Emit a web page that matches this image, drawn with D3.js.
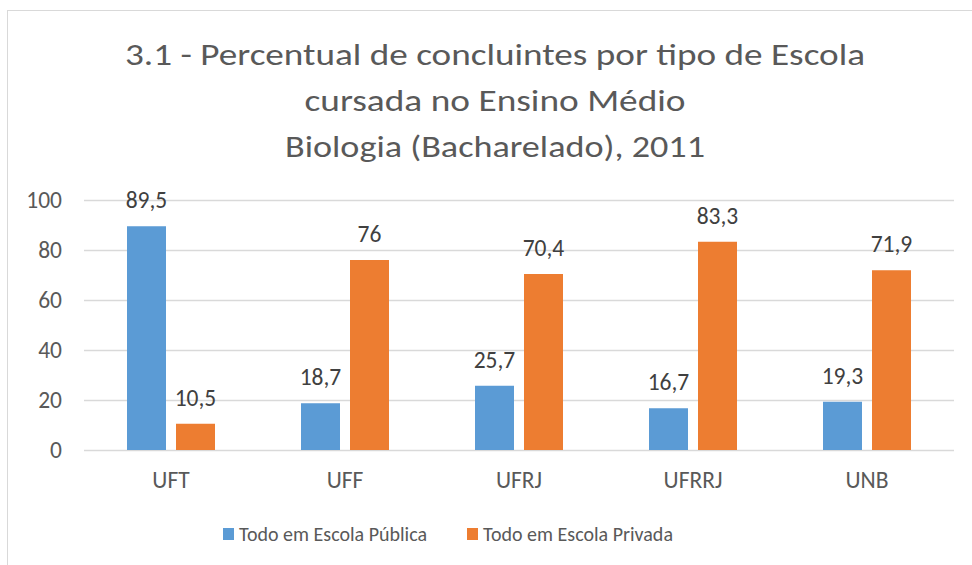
<!DOCTYPE html>
<html>
<head>
<meta charset="utf-8">
<script src="https://cdn.jsdelivr.net/npm/d3@7"></script>
<style>
  body { margin: 0; background: #fff; }
  svg { display: block; font-family: Carlito, Calibri, "Open Sans", sans-serif; }
</style>
</head>
<body>
<svg id="chart" width="972" height="565"></svg>
<script>
// chart data
const categories = ["UFT", "UFF", "UFRJ", "UFRRJ", "UNB"];
const seriesNames = ["Todo em Escola Pública", "Todo em Escola Privada"];
const publica = [89.5, 18.7, 25.7, 16.7, 19.3];
const privada = [10.5, 76, 70.4, 83.3, 71.9];
const yTicks = [0, 20, 40, 60, 80, 100];
const titleLines = [
  "3.1 - Percentual de concluintes por tipo de Escola",
  "cursada no Ensino Médio",
  "Biologia (Bacharelado), 2011",
];

const colors = ["#5B9BD5", "#ED7D31"];
const textColor = "#595959";
const fontFamily = 'Carlito, Calibri, "Open Sans", sans-serif';

const svg = d3.select("#chart");

// chart area frame (runs off the right/bottom edges)
svg.append("rect")
  .attr("x", 7.5).attr("y", 10.5)
  .attr("width", 1000).attr("height", 600)
  .attr("fill", "#fff")
  .attr("stroke", "#d9d9d9");

// title
const titleY = [65, 111, 157];
const titleLen = [740, 381, 420];
svg.append("g")
  .selectAll("text")
  .data(titleLines)
  .enter()
  .append("text")
  .attr("x", 495)
  .attr("y", (d, i) => titleY[i])
  .attr("text-anchor", "middle")
  .attr("font-size", 31)
  .attr("fill", textColor)
  .attr("textLength", (d, i) => titleLen[i])
  .attr("lengthAdjust", "spacingAndGlyphs")
  .text((d) => d);

// scales
const plot = { left: 84, right: 954, top: 200, bottom: 450 };

const x = d3.scaleBand()
  .domain(categories)
  .range([plot.left, plot.right])
  .paddingInner(0)
  .paddingOuter(0);

const y = d3.scaleLinear()
  .domain([0, 100])
  .range([plot.bottom, plot.top]);

const barWidth = 39;
const barGap = 10;

// gridlines
svg.append("g")
  .selectAll("line")
  .data(yTicks)
  .enter()
  .append("line")
  .attr("x1", plot.left)
  .attr("x2", plot.right)
  .attr("y1", (d) => Math.round(y(d)) + 0.5)
  .attr("y2", (d) => Math.round(y(d)) + 0.5)
  .attr("stroke", "#d9d9d9")
  .attr("stroke-width", 1.3);

// y axis labels
const yAxis = svg.append("g")
  .attr("transform", `translate(${plot.left - 22},0)`)
  .call(d3.axisLeft(y).tickValues(yTicks).tickSize(0).tickPadding(0));
yAxis.select(".domain").remove();
yAxis.selectAll("text")
  .attr("font-family", fontFamily)
  .attr("font-size", 23.5)
  .attr("fill", textColor);

// x axis labels
const xAxis = svg.append("g")
  .attr("transform", `translate(0,${plot.bottom})`)
  .call(d3.axisBottom(x).tickSize(0).tickPadding(21));
xAxis.select(".domain").remove();
xAxis.selectAll("text")
  .attr("font-family", fontFamily)
  .attr("font-size", 23.5)
  .attr("fill", textColor);

// bars
const series = [publica, privada];
series.forEach((values, s) => {
  const cx = (i) => x(categories[i]) + x.bandwidth() / 2;
  const bx = (i) => s === 0 ? cx(i) - barGap / 2 - barWidth : cx(i) + barGap / 2;

  svg.append("g")
    .selectAll("rect")
    .data(values)
    .enter()
    .append("rect")
    .attr("x", (d, i) => bx(i))
    .attr("y", (d) => y(d))
    .attr("width", barWidth)
    .attr("height", (d) => y(0) - y(d))
    .attr("fill", colors[s]);

  svg.append("g")
    .selectAll("text")
    .data(values)
    .enter()
    .append("text")
    .attr("x", (d, i) => bx(i) + barWidth / 2)
    .attr("y", (d) => y(d) - 18)
    .attr("text-anchor", "middle")
    .attr("font-size", 23.5)
    .attr("fill", "#404040")
    .text((d) => d.toString().replace(".", ","));
});

// legend
const legendX = [223, 467];
const legend = svg.append("g")
  .selectAll("g")
  .data(seriesNames)
  .enter()
  .append("g")
  .attr("transform", (d, i) => `translate(${legendX[i]},528)`);
legend.append("rect")
  .attr("width", 11).attr("height", 12)
  .attr("fill", (d, i) => colors[i]);
legend.append("text")
  .attr("x", 16).attr("y", 13)
  .attr("font-size", 20)
  .attr("fill", textColor)
  .text((d) => d);
</script>
</body>
</html>
